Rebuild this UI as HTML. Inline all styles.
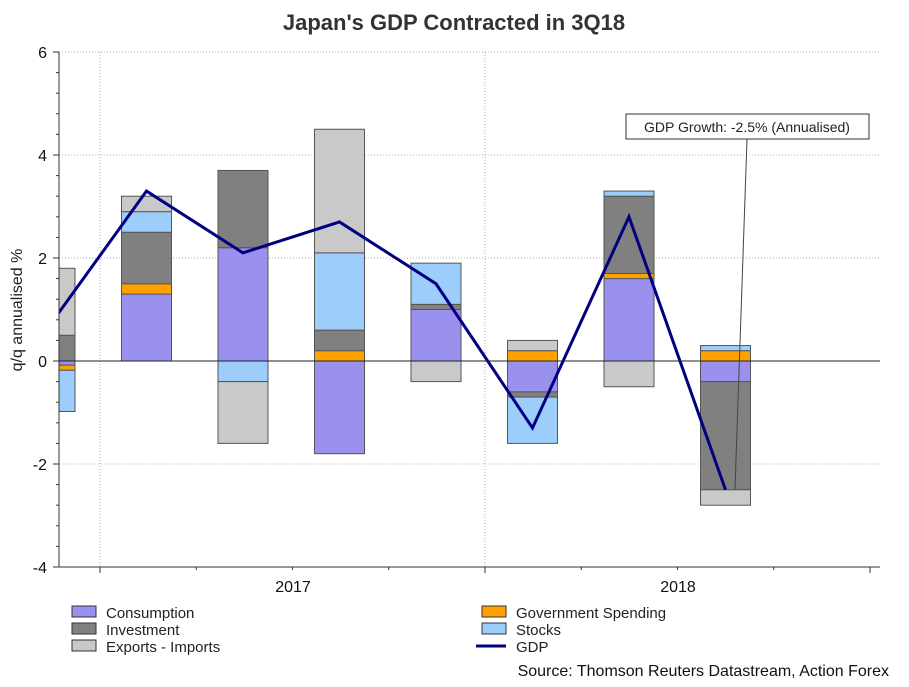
<!DOCTYPE html>
<html><head><meta charset="utf-8"><style>
body{margin:0;background:#fff;}
svg text{font-family:"Liberation Sans",Arial,sans-serif;}
</style></head><body>
<svg id="chart" width="909" height="682" viewBox="0 0 909 682">
<text x="454" y="30" text-anchor="middle" font-size="22" font-weight="bold" fill="#333">Japan's GDP Contracted in 3Q18</text>
<text transform="translate(22,310) rotate(-90)" text-anchor="middle" font-size="16" fill="#222">q/q annualised %</text>
<g id="grid"></g>
<defs><clipPath id="plotclip"><rect x="59" y="40" width="822" height="530"/></clipPath></defs>
<g id="bars" clip-path="url(#plotclip)"></g>
<g id="axes"></g>
<g id="legend"></g>
<rect x="626" y="114" width="243" height="25" fill="#fff" stroke="#333"/>
<text x="747" y="132" text-anchor="middle" font-size="14" fill="#222">GDP Growth: -2.5% (Annualised)</text>
<line x1="747" y1="139" x2="735" y2="489" stroke="#444" stroke-width="1"/>
<text x="889" y="676" text-anchor="end" font-size="16" fill="#111">Source: Thomson Reuters Datastream, Action Forex</text>
</svg>
<script>
const quarters=["3Q16","4Q16","1Q17","2Q17","3Q17","4Q17","1Q18","2Q18","3Q18"];
const consumption=[-0.08,1.3,2.2,-1.8,1.0,-0.6,1.6,-0.4];
const government=[-0.1,0.2,0,0.2,0,0.2,0.1,0.2];
const investment=[0.5,1.0,1.5,0.4,0.1,-0.1,1.5,-2.1];
const stocks=[-0.8,0.4,-0.4,1.5,0.8,-0.9,0.1,0.1];
const exportsNet=[1.3,0.3,-1.2,2.4,-0.4,0.2,-0.5,-0.3];
const gdp=[0.7,3.3,2.1,2.7,1.5,-1.3,2.8,-2.5];
const yTicks=[-4,-2,0,2,4,6];
const yearLabels=["2017","2018"];
const NS="http://www.w3.org/2000/svg";
const svg=document.getElementById('chart');
const X0=59,X1=880,YTOP=52,YBOT=567;
function y(v){return 361-v*51.5;}
function xc(i){return 50+i*96.5;}
function mk(tag,attrs,parent){const e=document.createElementNS(NS,tag);for(const k in attrs)e.setAttribute(k,attrs[k]);parent.appendChild(e);return e;}
const grid=document.getElementById('grid');
yTicks.forEach(t=>{if(t!==-4&&t!==0){
const l=mk('line',{x1:X0,x2:X1,y1:y(t),y2:y(t),stroke:'#b0a8c0','stroke-dasharray':'1,2'},grid);

}});
[100,485].forEach(x=>{const l=mk('line',{x1:x,x2:x,y1:YTOP,y2:YBOT,stroke:'#b0a8c0','stroke-dasharray':'1,2'},grid);

});
const series=[
 {name:'consumption',vals:consumption,fill:'#9a90ee'},
 {name:'government',vals:government,fill:'#ffa200'},
 {name:'investment',vals:investment,fill:'#808080'},
 {name:'stocks',vals:stocks,fill:'#9dcdfb'},
 {name:'exports',vals:exportsNet,fill:'#c9c9c9'}];
const bars=document.getElementById('bars');
for(let i=0;i<gdp.length;i++){let pos=0,neg=0;
 series.forEach(s=>{const v=s.vals[i];if(!v)return;let a,b;
  if(v>0){a=pos;b=pos+v;pos=b;}else{a=neg;b=neg+v;neg=b;}
  const r=mk('rect',{x:xc(i)-25,width:50,y:Math.min(y(a),y(b)),height:Math.abs(y(a)-y(b)),fill:s.fill,stroke:'#555','stroke-width':1},bars);
  
  });}
const axes=document.getElementById('axes');
const z=mk('line',{x1:X0,x2:X1,y1:y(0),y2:y(0),stroke:'#222'},axes);


const pts=gdp.map((v,i)=>xc(i)+','+y(v)).join(' ');
const gl=mk('polyline',{points:pts,fill:'none',stroke:'#000080','stroke-width':3,'stroke-linejoin':'miter'},bars);


const ya=mk('line',{x1:X0,x2:X0,y1:YTOP,y2:YBOT,stroke:'#333'},axes);


const xa=mk('line',{x1:X0,x2:X1,y1:YBOT,y2:YBOT,stroke:'#333'},axes);


for(let v=-4;v<=6.001;v+=0.4){mk('line',{x1:X0-3,x2:X0,y1:y(v),y2:y(v),stroke:'#333'},axes);}
yTicks.forEach(t=>{mk('line',{x1:X0-6,x2:X0,y1:y(t),y2:y(t),stroke:'#333'},axes);
 const tx=mk('text',{x:X0-12,y:y(t)+6,'text-anchor':'end','font-size':16,fill:'#111'},axes);tx.textContent=t;
 
 });
for(let k=0;k<9;k++){const x=100+k*96.25;mk('line',{x1:x,x2:x,y1:YBOT,y2:YBOT+(k%4==0?6:3),stroke:'#333'},axes);}
yearLabels.forEach((lab,i)=>{const tx=mk('text',{x:293+i*385,y:YBOT+25,'text-anchor':'middle','font-size':16,fill:'#111'},axes);tx.textContent=lab;
 
 });
const leg=document.getElementById('legend');
const items=[['Consumption','#9a90ee',72,612],['Investment','#808080',72,629],['Exports - Imports','#c9c9c9',72,646],['Government Spending','#ffa200',482,612],['Stocks','#9dcdfb',482,629]];
items.forEach(it=>{const g=mk('g',{},leg);
 
 
 mk('rect',{x:it[2],y:it[3]-6,width:24,height:11,fill:it[1],stroke:'#333'},g);
 const t=mk('text',{x:it[2]+34,y:it[3]+6,'font-size':15,fill:'#222'},g);t.textContent=it[0];});
const g2=mk('g',{},leg);


mk('line',{x1:476,x2:506,y1:646,y2:646,stroke:'#000080','stroke-width':3},g2);
const t2=mk('text',{x:516,y:652,'font-size':15,fill:'#222'},g2);t2.textContent='GDP';
</script>
</body></html>
